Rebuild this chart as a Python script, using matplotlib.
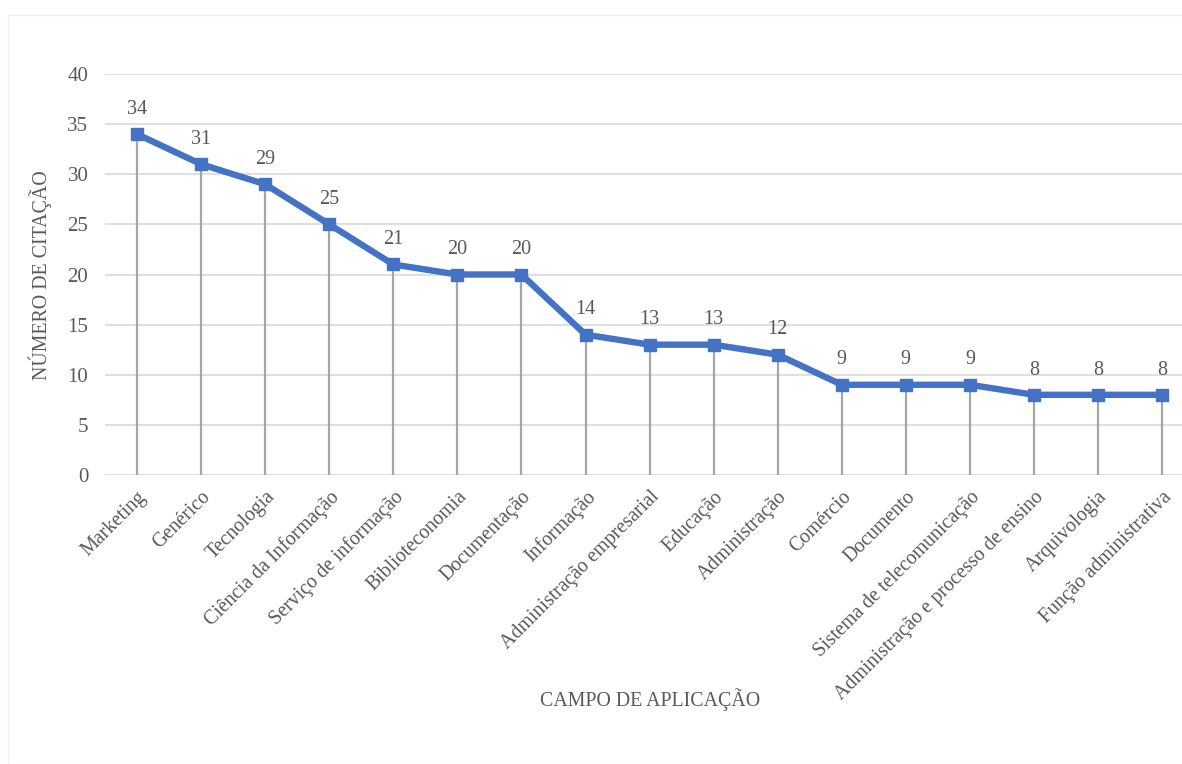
import numpy as np
import matplotlib
matplotlib.use("Agg")
import matplotlib.pyplot as plt
from matplotlib.patches import Rectangle

# dados
campos = ["Marketing", "Genérico", "Tecnologia", "Ciência da Informação",
          "Serviço de informação", "Biblioteconomia", "Documentação", "Informação",
          "Administração empresarial", "Educação", "Administração", "Comércio",
          "Documento", "Sistema de telecomunicação",
          "Administração e processo de ensino", "Arquivologia",
          "Função administrativa"]
citacoes = [34, 31, 29, 25, 21, 20, 20, 14, 13, 13, 12, 9, 9, 9, 8, 8, 8]
yticks = [0, 5, 10, 15, 20, 25, 30, 35, 40]

plt.rcParams['font.family'] = ['Liberation Serif', 'DejaVu Serif']
txt = '#595959'

fig = plt.figure(figsize=(11.82, 7.64), dpi=100)
W, H = 1182, 764
ax = fig.add_axes([105 / W, 1 - 475 / H, (1182 - 105) / W, (475 - 74) / H])

x = np.arange(len(campos))

# linhas de queda
ax.vlines(x, 0, citacoes, color='#A5A5A5', lw=1.6, zorder=2)
ax.plot(x, citacoes, color='#4472C4', lw=4.6, marker='s', ms=8,
        solid_joinstyle='round', zorder=3)

for xi, v in zip(x, citacoes):
    ax.annotate(str(v), (xi, v), xytext=(0, 11), textcoords='offset points',
                ha='center', va='bottom', fontsize=14.5, color=txt)

ax.set_ylim(0, 40)
ax.set_yticks(yticks)
ax.set_xlim(-0.5, 16.31)
ax.set_xticks(x)
ax.set_xticklabels(campos, rotation=45, ha='right', rotation_mode='anchor',
                   fontsize=14.3, color=txt)
ax.tick_params(axis='y', labelsize=15, labelcolor=txt, length=0, pad=12)
ax.tick_params(axis='x', length=0, pad=9)
ax.grid(axis='y', color='#D9D9D9', lw=1.2)
ax.set_axisbelow(True)
for s in ax.spines.values():
    s.set_visible(False)

fig.text(40 / W, 1 - 275 / H, 'NÚMERO DE CITAÇÃO', rotation=90, ha='center',
         va='center', fontsize=14.3, color=txt)
fig.text(650 / W, 1 - 700 / H, 'CAMPO DE APLICAÇÃO', ha='center', va='center',
         fontsize=14.3, color=txt)

fig.patches.append(Rectangle((8 / W, 0), 1, 1 - 15 / H, transform=fig.transFigure,
                             fill=False, edgecolor='#F0F0F0', lw=1))

fig.savefig('out.png', dpi=100)
